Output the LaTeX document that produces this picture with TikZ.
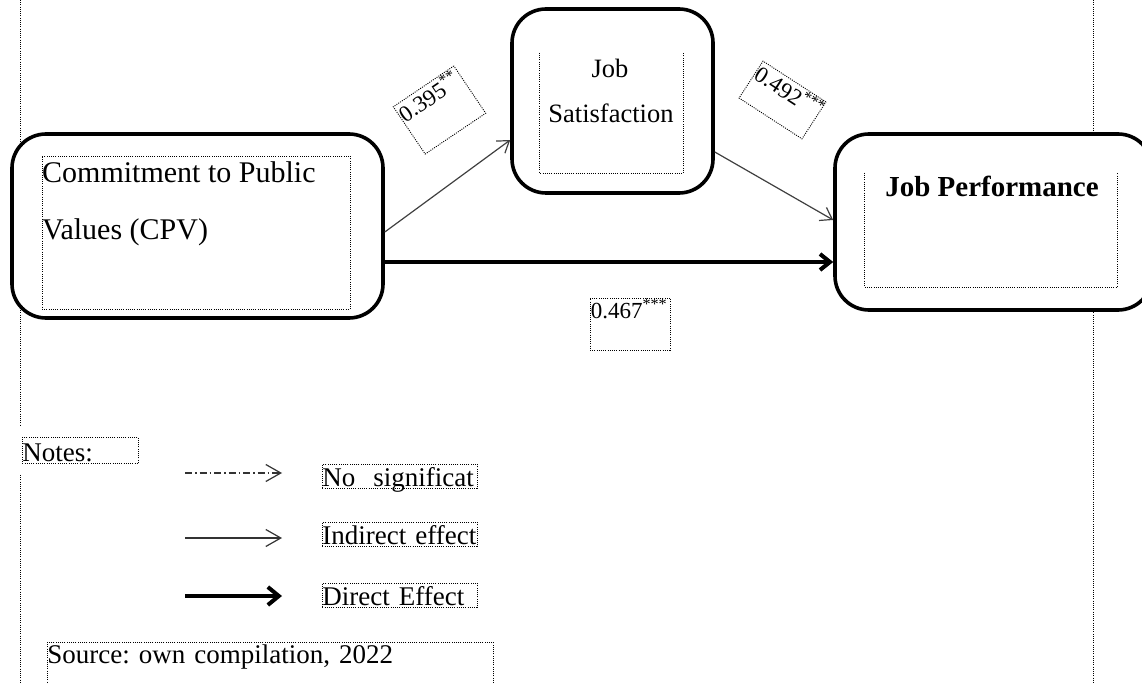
\documentclass[tikz,border=0pt]{standalone}
\usepackage{fontspec}
\setmainfont{Liberation Serif}
\usetikzlibrary{arrows.meta}
\newcommand{\fcpv}{\fontsize{30}{36}\selectfont}
\newcommand{\fjs}{\fontsize{26.5}{32}\selectfont}
\newcommand{\fjp}{\fontsize{29}{34}\selectfont\bfseries}
\newcommand{\flbl}{\fontsize{23}{27}\selectfont}
\newcommand{\fleg}{\fontsize{27}{31}\selectfont}
\frenchspacing
\begin{document}
\begin{tikzpicture}[x=1pt,y=-1pt,
  bigbox/.style={draw, line width=3.6pt, rounded corners=34pt, fill=white, inner sep=0pt},
  dotbox/.style={draw, line width=0.9pt, dash pattern=on 1pt off 1.2pt, inner sep=0pt},
  dotline/.style={line width=0.9pt, dash pattern=on 1pt off 1.2pt},
  plain/.style={inner sep=0pt},
  thinarrow/.style={draw=black!75, line width=1.2pt, -{Straight Barb[length=11pt,width=15pt]}},
  thickarrow/.style={line width=4pt, -{Straight Barb[length=10pt,width=16pt]}},
  legthin/.style={draw=black!80, line width=1.2pt, -{Straight Barb[length=15pt,width=17pt]}},
  legdash/.style={legthin, dash pattern=on 7pt off 3pt on 1.5pt off 3pt},
  legthick/.style={line width=4pt, -{Straight Barb[length=11pt,width=18pt]}},
  legtext/.style={dotbox, anchor=north west, align=left, font=\fleg, text height=22pt, text depth=2pt}
]
\useasboundingbox (0,0) rectangle (1142,684);
\clip (0,0) rectangle (1142,684);
\fill[white] (0,0) rectangle (1142,684);

% page margin lines
\coordinate (lt) at (20,0);
\coordinate (lm) at (20,425);
\coordinate (lm2) at (20,475);
\coordinate (lb) at (20,684);
\coordinate (rt) at (1093,0);
\coordinate (rb) at (1093,684);
\draw[dotline] (lt) -- (lm);
\draw[dotline] (lm2) -- (lb);
\draw[dotline] (rt) -- (rb);

% main boxes
\node[bigbox, minimum width=371pt, minimum height=184pt] (cpv) at (197.5,226) {};
\node[bigbox, minimum width=201pt, minimum height=184pt] (js) at (612.5,101) {};
\node[bigbox, minimum width=317pt, minimum height=176pt] (jp) at (993.5,222) {};

% inner dotted frames
\node[dotbox, minimum width=308pt, minimum height=153pt] (cpvin) at (196,232.5) {};
\node[plain, minimum width=143pt, minimum height=120pt] (jsin) at (611.5,113) {};
\draw[dotline] (jsin.north west) -- (jsin.south west) -- (jsin.south east) -- (jsin.north east);
\node[plain, minimum width=252pt, minimum height=114pt] (jpin) at (991,230) {};
\draw[dotline] (jpin.north west) -- (jpin.south west) -- (jpin.south east) -- (jpin.north east);

% texts
\node[plain, anchor=base west, font=\fcpv] (cpvA) at (42,183) {Commitment to Public};
\node[plain, anchor=base west, font=\fcpv] (cpvB) at (42,240) {Values (CPV)};
\node[plain, anchor=base, font=\fjs] (jsA) at (610,78) {Job};
\node[plain, anchor=base, font=\fjs] (jsB) at (611,123) {Satisfaction};
\node[plain, anchor=base, font=\fjp] (jpA) at (992,197) {Job Performance};

% connectors
\draw[thinarrow] ([yshift=-6pt]cpv.east) -- ([yshift=-39pt]js.west);
\draw[thinarrow] ([yshift=-51pt]js.east) -- ([yshift=2pt]jp.west);
\draw[thickarrow] ([yshift=-36pt]cpv.east) -- ([yshift=-40pt]jp.west);

% coefficient labels
\node[dotbox, rotate=34, minimum width=73pt, minimum height=57pt] (l395) at (439.5,110) {};
\node[plain, rotate=34, anchor=north west, font=\flbl, inner sep=1pt] (t395) at (l395.north west) {0.395\textsuperscript{**}};
\node[dotbox, rotate=-33, minimum width=75pt, minimum height=44pt] (l492) at (782.5,100) {};
\node[plain, rotate=-33, anchor=north west, font=\flbl, inner sep=1pt] (t492) at (l492.north west) {0.492\textsuperscript{***}};
\node[dotbox, minimum width=80pt, minimum height=52pt] (l467) at (630,324) {};
\node[plain, anchor=north west, font=\flbl, inner sep=1pt] (t467) at (l467.north west) {0.467\textsuperscript{***}};

% notes / legend
\node[legtext, text width=116pt, text height=24pt] (notes) at (22,437) {Notes:};
\coordinate (a1s) at (185,473);
\coordinate (a1e) at (282,473);
\coordinate (a2s) at (185,538);
\coordinate (a2e) at (282,538);
\coordinate (a3s) at (185,596);
\coordinate (a3e) at (282,596);
\draw[legdash] (a1s) -- (a1e);
\draw[legthin] (a2s) -- (a2e);
\draw[legthick] (a3s) -- (a3e);
\node[legtext, text width=155pt] (n1) at (322,464) {No\ \ significat};
\node[legtext, text width=155pt] (n2) at (322,522) {Indirect effect};
\node[legtext, text width=155pt] (n3) at (322,583) {Direct Effect};

\node[dotbox, anchor=north west, align=left, font=\fleg, text width=446pt, text height=21pt, text depth=40pt] (src) at (47,642) {Source: own compilation, 2022};
\end{tikzpicture}
\end{document}
